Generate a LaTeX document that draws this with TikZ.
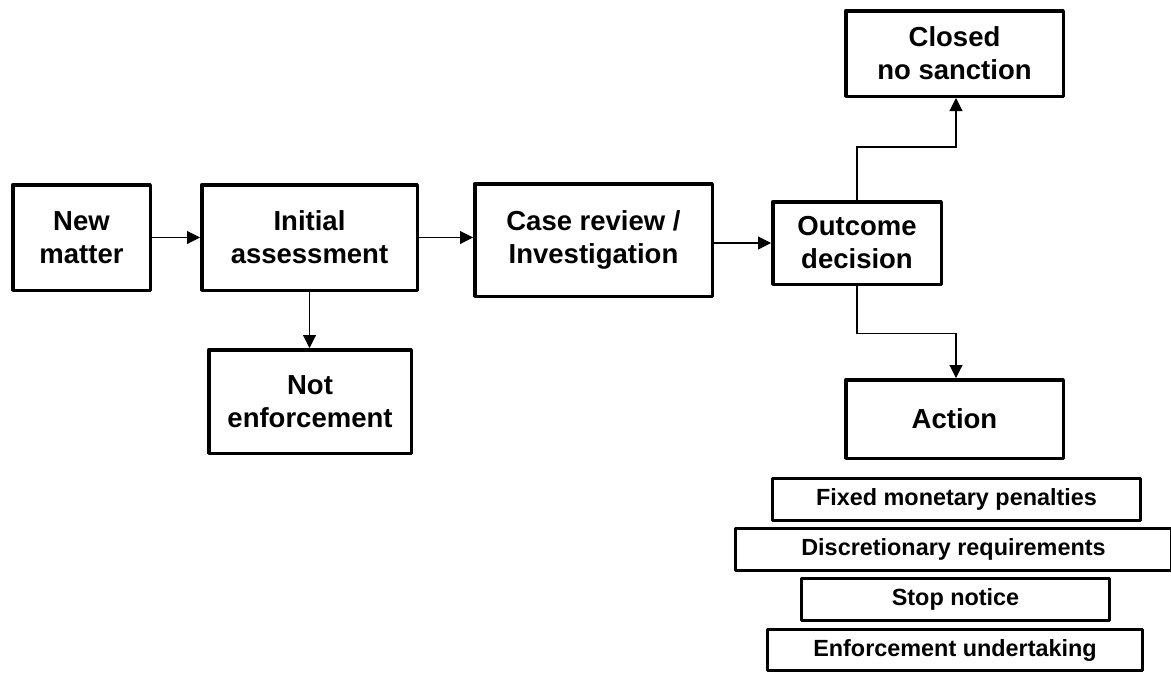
\documentclass[tikz,border=0pt]{standalone}
\usepackage{fontspec}
\setmainfont{Liberation Sans}
\usetikzlibrary{arrows.meta,calc}
\tikzset{
  mainbox/.style={draw=black, line width=3.5pt, line join=round, fill=white,
    inner sep=0pt, align=center, font=\bfseries\fontsize{27.5}{33}\selectfont},
  subbox/.style={draw=black, line width=3pt, line join=round, fill=white,
    inner sep=0pt, align=center, font=\bfseries\fontsize{23.4}{28}\selectfont},
  conn/.style={draw=black, line width=1.1pt, -{Triangle[length=13pt,width=13pt]}}
}
\begin{document}
\begin{tikzpicture}[x=1pt,y=-1pt]
\useasboundingbox[fill=white] (0,0) rectangle (1171,673);
% main flow
\node[mainbox, minimum width=137.5pt, minimum height=105.5pt] (new) at (81.5,237.5) {New\\matter};
\node[mainbox, minimum width=215.5pt, minimum height=105.5pt] (init) at (309.5,237.5) {Initial\\assessment};
\node[mainbox, minimum width=237.5pt, minimum height=112.5pt] (case) at (593.5,240) {Case review /\\Investigation};
\node[mainbox, minimum width=202.5pt, minimum height=103.5pt] (not) at (310,401.5) {Not\\enforcement};
\node[mainbox, minimum width=168.5pt, minimum height=82.5pt] (outcome) at (857,243) {Outcome\\decision};
\node[mainbox, minimum width=217.5pt, minimum height=85.5pt] (closed) at (954.5,53.5) {Closed\\no sanction};
\node[mainbox, minimum width=217.5pt, minimum height=78.5pt] (action) at (954.5,419) {Action};
% action list
\node[subbox, minimum width=368pt, minimum height=42pt] (fixed) at (956.5,499.5) {Fixed monetary penalties};
\node[subbox, minimum width=436pt, minimum height=42pt] (disc) at (953.5,549.5) {Discretionary requirements};
\node[subbox, minimum width=308pt, minimum height=42pt] (stop) at (955.5,599.5) {Stop notice};
\node[subbox, minimum width=375pt, minimum height=41pt] (enf) at (955,650) {Enforcement undertaking};
% connectors
\draw[conn] (new.east) -- (init.west);
\draw[conn] (init.south) -- (init.south |- not.north);
\draw[conn] (init.east) -- (init.east -| case.west);
\draw[conn] (outcome.west -| case.east) -- (outcome.west);
\coordinate (up) at ($(outcome.north)!0.52!(closed.south)$);
\coordinate (down) at ($(outcome.south)!0.52!(action.north)$);
\draw[conn] (outcome.north) -- (outcome.north |- up) -| ([xshift=1.5pt]closed.south);
\draw[conn] (outcome.south) -- (outcome.south |- down) -| ([xshift=1.5pt]action.north);
\end{tikzpicture}
\end{document}
